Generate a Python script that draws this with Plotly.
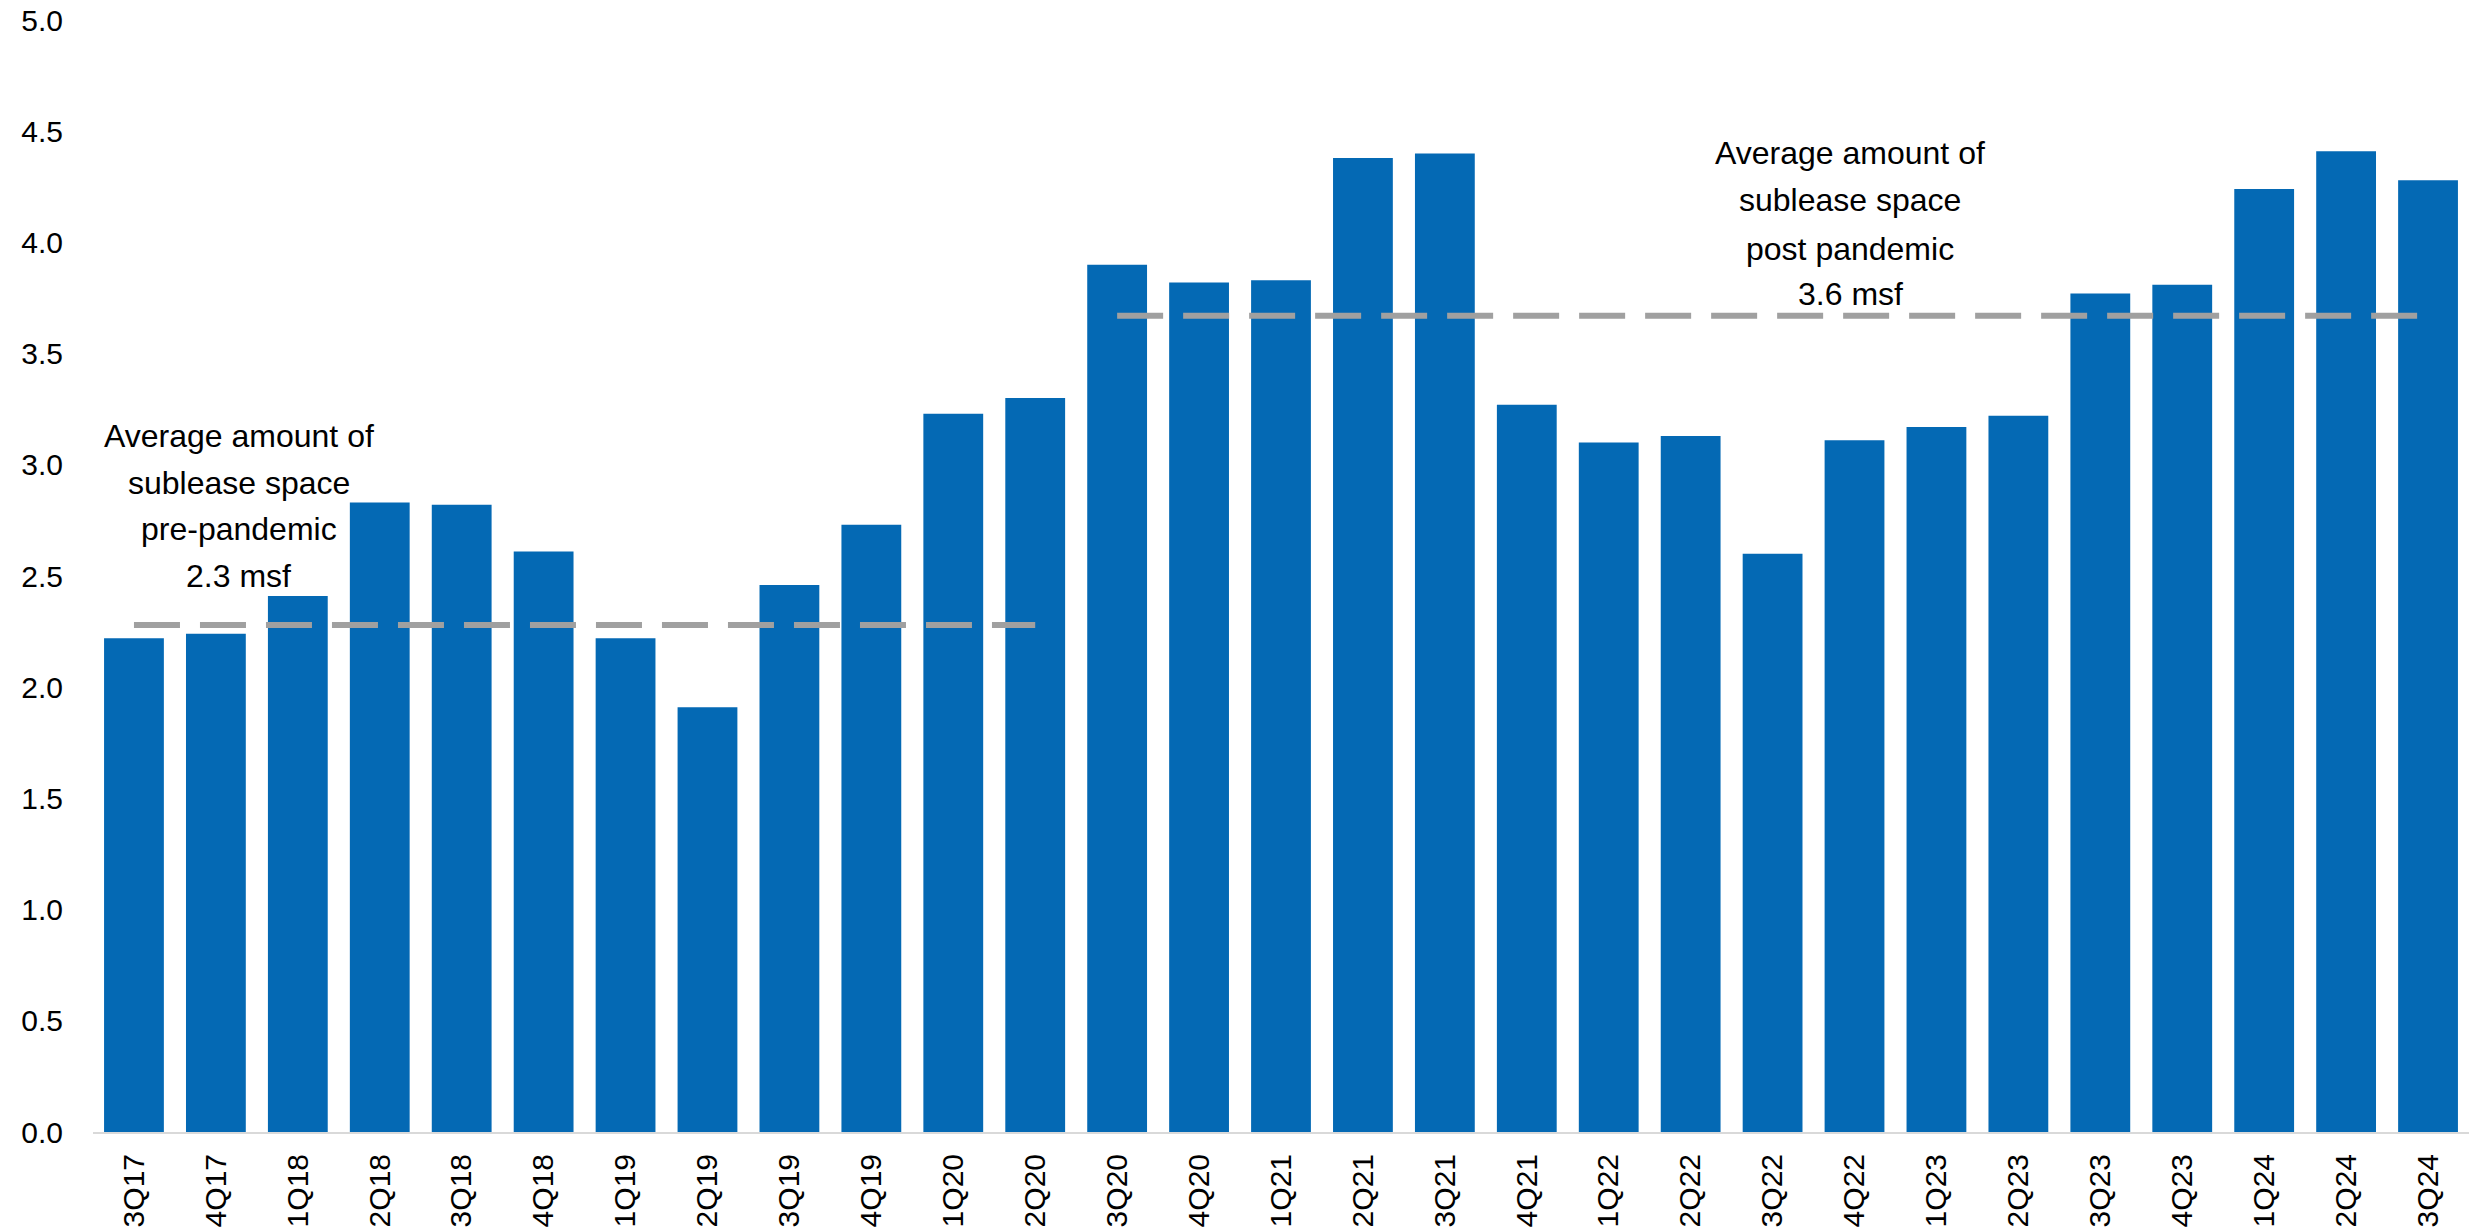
import plotly.graph_objects as go

quarters = ["3Q17", "4Q17", "1Q18", "2Q18", "3Q18", "4Q18", "1Q19", "2Q19", "3Q19", "4Q19",
            "1Q20", "2Q20", "3Q20", "4Q20", "1Q21", "2Q21", "3Q21", "4Q21", "1Q22", "2Q22",
            "3Q22", "4Q22", "1Q23", "2Q23", "3Q23", "4Q23", "1Q24", "2Q24", "3Q24"]
sublease_msf = [2.22, 2.24, 2.41, 2.83, 2.82, 2.61, 2.22, 1.91, 2.46, 2.73,
                3.23, 3.30, 3.90, 3.82, 3.83, 4.38, 4.40, 3.27, 3.10, 3.13,
                2.60, 3.11, 3.17, 3.22, 3.77, 3.81, 4.24, 4.41, 4.28]

pre_quarters = quarters[:12]
pre_avg = 2.28
post_quarters = quarters[12:]
post_avg = 3.67

pre_label = ["Average amount of", "sublease space", "pre-pandemic", "2.3 msf"]
post_label = ["Average amount of", "sublease space", "post pandemic", "3.6 msf"]

yticks = [0.0, 0.5, 1.0, 1.5, 2.0, 2.5, 3.0, 3.5, 4.0, 4.5, 5.0]

FONT = "Liberation Sans, Arial, sans-serif"
BAR_COLOR = "#0469B4"
LINE_COLOR = "#A0A0A0"

fig = go.Figure()
fig.add_trace(go.Bar(x=quarters, y=sublease_msf, marker=dict(color=BAR_COLOR, line=dict(width=0)),
                     hoverinfo="x+y"))
fig.add_trace(go.Scatter(x=pre_quarters, y=[pre_avg] * len(pre_quarters), mode="lines",
                         line=dict(color=LINE_COLOR, width=6, dash="46px,20px")))
fig.add_trace(go.Scatter(x=post_quarters, y=[post_avg] * len(post_quarters), mode="lines",
                         line=dict(color=LINE_COLOR, width=6, dash="46px,20px")))

annotations = []
pre_y = [3.13, 2.92, 2.71, 2.50]
post_y = [4.40, 4.19, 3.97, 3.77]
for txt, yy in zip(pre_label, pre_y):
    annotations.append(dict(x=1.28, y=yy, xref="x", yref="y", text=txt, showarrow=False,
                            xanchor="center", yanchor="middle",
                            font=dict(family=FONT, size=32, color="#000000")))
for txt, yy in zip(post_label, post_y):
    annotations.append(dict(x=20.95, y=yy, xref="x", yref="y", text=txt, showarrow=False,
                            xanchor="center", yanchor="middle",
                            font=dict(family=FONT, size=32, color="#000000")))

fig.update_layout(
    width=2472, height=1230,
    margin=dict(l=93, r=3, t=18, b=95),
    paper_bgcolor="white", plot_bgcolor="white",
    showlegend=False,
    bargap=0.27,
    font=dict(family=FONT, size=30, color="#000000"),
    annotations=annotations,
)
fig.update_xaxes(type="category", tickangle=-90, showgrid=False, zeroline=False,
                 showline=True, linecolor="#D9D9D9", linewidth=2,
                 ticks="outside", ticklen=8, tickcolor="rgba(0,0,0,0)",
                 tickfont=dict(family=FONT, size=30, color="#000000"))
fig.update_yaxes(range=[0, 5], tickvals=yticks, tickformat=".1f", showgrid=False,
                 zeroline=False, showline=False,
                 ticks="outside", ticklen=23, tickcolor="rgba(0,0,0,0)",
                 tickfont=dict(family=FONT, size=30, color="#000000"))

fig.write_html("out.html")
